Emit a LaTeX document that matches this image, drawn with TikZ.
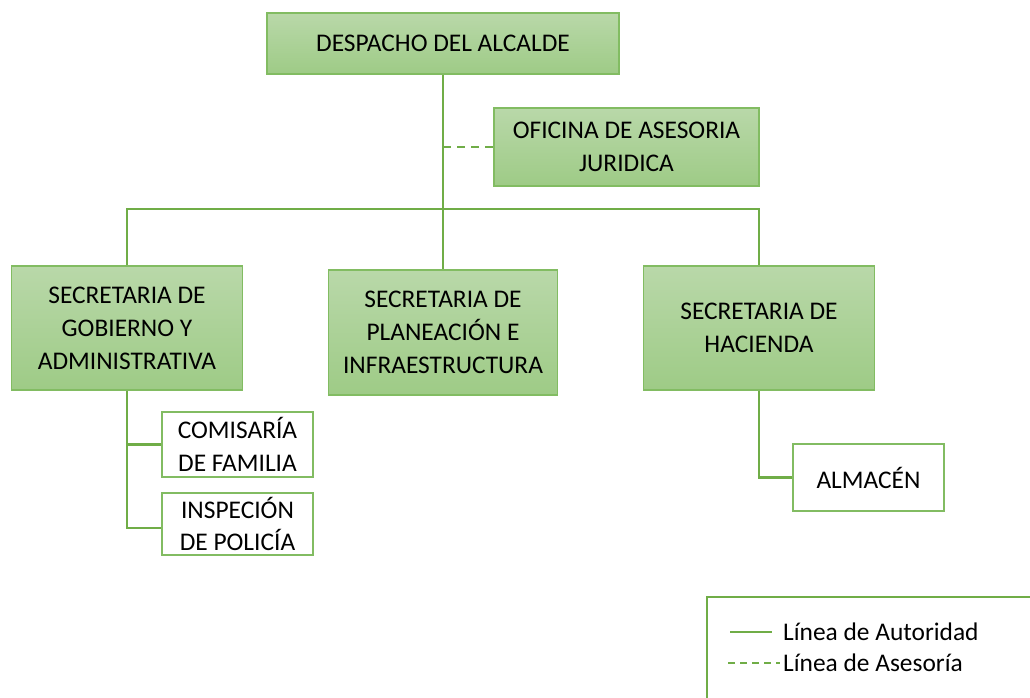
\documentclass[tikz,border=0pt]{standalone}
\usepackage{fontspec}
\setmainfont{Carlito}
\definecolor{gtop}{RGB}{185,216,169}
\definecolor{gbot}{RGB}{158,203,134}
\definecolor{boxline}{RGB}{130,188,98}
\definecolor{lnc}{RGB}{112,173,71}
\begin{document}
\begin{tikzpicture}[x=1bp,y=-1bp,
  every node/.style={font=\fontsize{25.5}{33}\selectfont, align=center, inner sep=0pt},
  gbox/.style={draw=boxline, line width=1.4bp, top color=gtop, bottom color=gbot},
  wbox/.style={draw=boxline, line width=1.4bp, fill=white},
  auth/.style={draw=lnc, line width=2.3bp},
  adv/.style={draw=lnc, line width=2.3bp, dash pattern=on 8bp off 6bp}]
\useasboundingbox (0,0) rectangle (1030,698);
\node[gbox, minimum width=352bp, minimum height=61bp] (desp) at (443,43.5) {DESPACHO DEL ALCALDE};
\node[gbox, minimum width=265bp, minimum height=78bp] (ofi) at (626.5,147) {OFICINA DE ASESORIA\\JURIDICA};
\node[gbox, minimum width=231bp, minimum height=124bp] (gob) at (127,328) {SECRETARIA DE\\GOBIERNO Y\\ADMINISTRATIVA};
\node[gbox, minimum width=229bp, minimum height=125bp] (plan) at (443,332.5) {SECRETARIA DE\\PLANEACIÓN E\\INFRAESTRUCTURA};
\node[gbox, minimum width=231bp, minimum height=124bp] (hac) at (759,328) {SECRETARIA DE\\HACIENDA};
\node[wbox, minimum width=151bp, minimum height=65bp] (com) at (237.5,444.5) {COMISARÍA\\DE FAMILIA};
\node[wbox, minimum width=151bp, minimum height=62bp] (insp) at (237.5,524) {INSPECIÓN\\DE POLICÍA};
\node[wbox, minimum width=151bp, minimum height=67bp] (alm) at (868.5,477.5) {ALMACÉN};
\coordinate (bj) at (443,209);
\draw[auth] (desp.south) -- (plan.north);
\draw[auth] (gob.north) |- (bj) -| (hac.north);
\draw[adv] (desp.south |- ofi.west) -- (ofi.west);
\draw[auth] (gob.south) |- (com.west);
\draw[auth] (gob.south) |- ([yshift=-4bp]insp.west);
\draw[auth] (hac.south) |- (alm.west);
% legend
\coordinate (lg1) at (707,698);
\coordinate (lg2) at (707,597);
\coordinate (lg3) at (1030,597);
\draw[draw=lnc, line width=1.4bp] (lg1) -- (lg2) -- (lg3);
\coordinate (la1) at (730,632);
\coordinate (la2) at (772,632);
\coordinate (lb1) at (728,663);
\coordinate (lb2) at (780,663);
\draw[auth] (la1) -- (la2);
\draw[adv, dash pattern=on 7bp off 5bp] (lb1) -- (lb2);
\node[anchor=west] (ta) at (783,632) {Línea de Autoridad};
\node[anchor=west] (tb) at (783,663) {Línea de Asesoría};
\end{tikzpicture}
\end{document}
